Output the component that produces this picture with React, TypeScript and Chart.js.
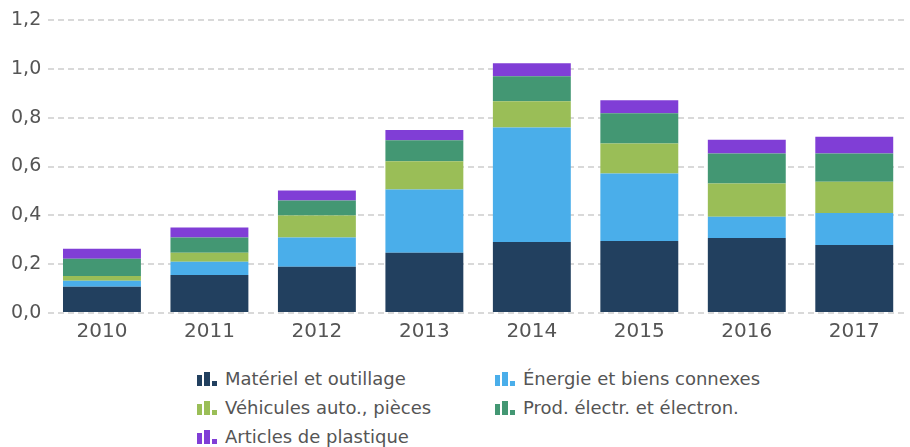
import React, { useEffect, useRef } from "react";
import { Chart, registerables } from "chart.js";

Chart.register(...registerables);

const years = ["2010", "2011", "2012", "2013", "2014", "2015", "2016", "2017"];
const materiel = [0.107, 0.156, 0.189, 0.247, 0.291, 0.295, 0.307, 0.279];
const energie = [0.025, 0.054, 0.12, 0.259, 0.469, 0.276, 0.087, 0.131];
const vehicules = [0.02, 0.037, 0.09, 0.115, 0.107, 0.123, 0.136, 0.128];
const electr = [0.07, 0.062, 0.062, 0.087, 0.103, 0.124, 0.123, 0.115];
const plastique = [0.041, 0.041, 0.041, 0.041, 0.053, 0.053, 0.057, 0.069];

const seriesNames = [
  "Matériel et outillage",
  "Énergie et biens connexes",
  "Véhicules auto., pièces",
  "Prod. électr. et électron.",
  "Articles de plastique",
];
const seriesColors = ["#22405f", "#4aaeea", "#9abe57", "#439773", "#803ed6"];
const seriesData = [materiel, energie, vehicules, electr, plastique];

const FONT = "'DejaVu Sans', Verdana, sans-serif";
const TEXT = "#555555";

function LegendItem({ name, color, left, top }: { name: string; color: string; left: number; top: number }) {
  return (
    <div
      style={{
        position: "absolute",
        left,
        top,
        height: 29,
        display: "flex",
        alignItems: "center",
        whiteSpace: "nowrap",
      }}
    >
      <div style={{ display: "flex", alignItems: "flex-end", height: 14, gap: 2, marginRight: 8 }}>
        <span style={{ display: "block", width: 5, height: 11, background: color }} />
        <span style={{ display: "block", width: 6, height: 14, background: color }} />
        <span style={{ display: "block", width: 5, height: 5, background: color }} />
      </div>
      <span style={{ fontFamily: FONT, fontSize: 18, color: TEXT }}>{name}</span>
    </div>
  );
}

export default function App() {
  const ref = useRef<HTMLCanvasElement | null>(null);

  useEffect(() => {
    document.body.style.margin = "0";
    const ctx = ref.current;
    if (!ctx) return;
    const chart = new Chart(ctx, {
      type: "bar",
      data: {
        labels: years,
        datasets: seriesNames.map((n, i) => ({
          label: n,
          data: seriesData[i],
          backgroundColor: seriesColors[i],
          borderWidth: 0,
          categoryPercentage: 1,
          barPercentage: 0.725,
        })),
      },
      options: {
        animation: false,
        responsive: false,
        maintainAspectRatio: false,
        layout: { padding: { left: 4, right: 2, top: 20, bottom: 0 } },
        plugins: { legend: { display: false }, tooltip: { enabled: false } },
        scales: {
          x: {
            stacked: true,
            grid: { display: false, drawTicks: false },
            border: { display: false },
            ticks: { color: TEXT, font: { family: FONT, size: 20 }, padding: 7 },
          },
          y: {
            stacked: true,
            min: 0,
            max: 1.2,
            border: { display: false, dash: [6, 4] },
            grid: { color: "#d9d9d9", lineWidth: 2, drawTicks: false },
            ticks: {
              stepSize: 0.2,
              color: TEXT,
              font: { family: FONT, size: 19 },
              padding: 7,
              callback: (v: any) => Number(v).toFixed(1).replace(".", ","),
            },
          },
        },
      },
    });
    return () => chart.destroy();
  }, []);

  const cols = [197, 495];
  const rows = [364, 393, 422];

  return (
    <div style={{ position: "relative", width: 910, height: 447, background: "#fff" }}>
      <canvas ref={ref} width={910} height={351} style={{ display: "block" }} />
      {seriesNames.map((n, i) => (
        <LegendItem key={n} name={n} color={seriesColors[i]} left={cols[i % 2]} top={rows[Math.floor(i / 2)]} />
      ))}
    </div>
  );
}
